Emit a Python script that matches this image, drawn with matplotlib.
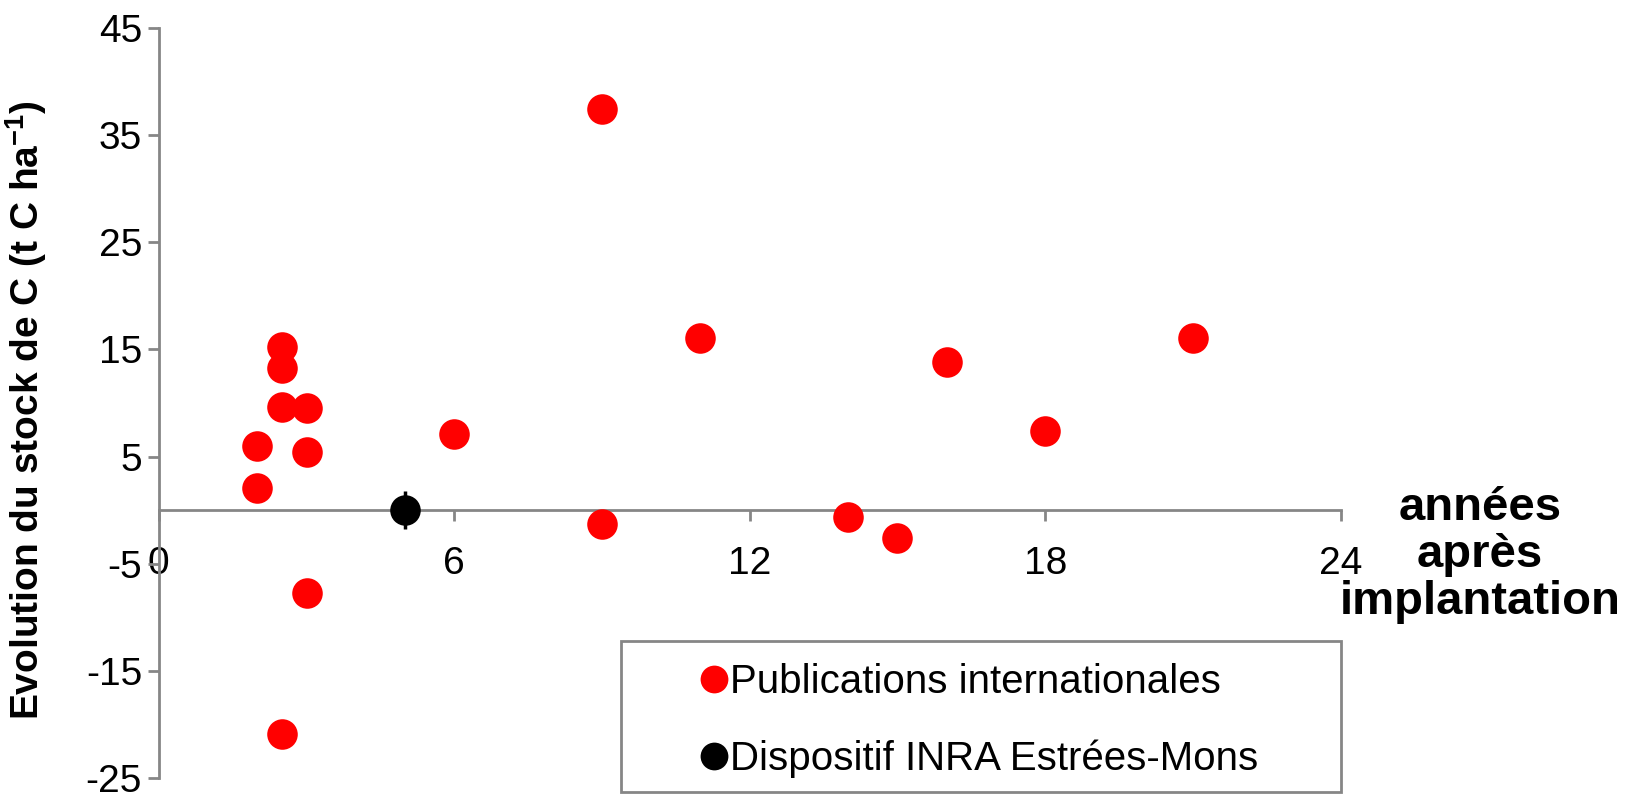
import matplotlib
matplotlib.use("Agg")
import matplotlib.pyplot as plt
from matplotlib.lines import Line2D
from matplotlib.patches import Rectangle

plt.rcParams["font.family"] = ["Liberation Sans", "DejaVu Sans"]
plt.rcParams["axes.unicode_minus"] = False

# Published field studies: years after planting vs. change in soil C stock
pub_years = [2, 2, 2.5, 2.5, 2.5, 3, 3, 3, 2.5, 6, 9, 9, 11, 14, 15, 16, 18, 21]
pub_dstock = [6.0, 2.1, 15.2, 13.3, 9.6, 9.5, 5.4, -7.7, -20.9, 7.1, 37.4, -1.3,
              16.1, -0.6, -2.6, 13.8, 7.4, 16.1]

# INRA Estrées-Mons site
inra_years = [5]
inra_dstock = [0.0]
inra_err = [1.8]

x_ticks = [0, 6, 12, 18, 24]
y_ticks = [-25, -15, -5, 5, 15, 25, 35, 45]

fig = plt.figure(figsize=(16.37, 7.94), dpi=100)
ax = fig.add_axes([0.097, 0.020, 0.722, 0.945])

ax.plot(pub_years, pub_dstock, "o", color="#ff0000", markersize=22,
        markeredgewidth=0, clip_on=False, zorder=3)
ax.errorbar(inra_years, inra_dstock, yerr=inra_err, fmt="o", color="black",
            markersize=22, markeredgewidth=0, ecolor="black", elinewidth=2.5,
            capsize=6, capthick=2.5, clip_on=False, zorder=4)

ax.set_xlim(0, 24)
ax.set_ylim(-25, 45)
ax.set_xticks(x_ticks)
ax.set_yticks(y_ticks)

axis_grey = "#868686"
ax.spines["top"].set_visible(False)
ax.spines["right"].set_visible(False)
ax.spines["bottom"].set_position(("data", 0))
for side in ("left", "bottom"):
    ax.spines[side].set_color(axis_grey)
    ax.spines[side].set_linewidth(2)

ax.tick_params(axis="both", colors=axis_grey, width=2, length=8,
               labelsize=28, labelcolor="black")
ax.tick_params(axis="x", direction="out", pad=18)
ax.tick_params(axis="y", direction="out", pad=4)

ax.set_ylabel("Evolution du stock de C (t C ha$^{\\mathregular{-1}}$)",
              fontsize=28, fontweight="bold")
ax.yaxis.set_label_coords(-0.093, 0.49)

fig.text(0.904, 0.301, "années\naprès\nimplantation", ha="center", va="center",
         fontsize=34, fontweight="bold", linespacing=1.08)

# legend box (runs off the bottom of the figure)
fig.patches.append(Rectangle((0.3793, 0.0025), 0.4398, 0.1902,
                             transform=fig.transFigure, fill=False,
                             edgecolor=axis_grey, linewidth=2))

handles = [
    Line2D([], [], marker="o", linestyle="none", color="#ff0000",
           markersize=20, markeredgewidth=0),
    Line2D([], [], marker="o", linestyle="none", color="black",
           markersize=20, markeredgewidth=0),
]
labels = ["Publications internationales", "Dispositif INRA Estrées-Mons"]
fig.legend(handles, labels, loc="upper left", bbox_to_anchor=(0.4285, 0.1645),
           frameon=False, fontsize=29, handlelength=0.6, handletextpad=0.12,
           borderpad=0, borderaxespad=0, labelspacing=0.95)

fig.savefig("out.png", dpi=100)
